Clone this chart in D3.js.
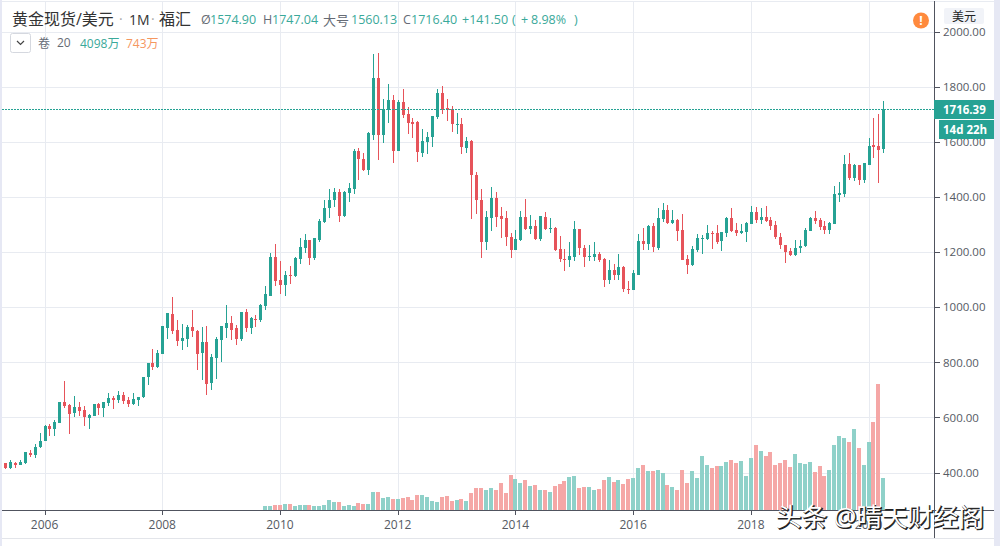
<!DOCTYPE html>
<html><head><meta charset="utf-8">
<script src="https://cdnjs.cloudflare.com/ajax/libs/d3/7.8.5/d3.min.js"></script>
<style>html,body{margin:0;padding:0;background:#fff;overflow:hidden}svg{display:block}text{font-family:"Open Sans","Noto Sans CJK SC",sans-serif}</style>
</head><body><svg id="c" width="1000" height="546"></svg>
<script>
// Monthly candles, first bar May 2005, last bar Apr 2020
const firstYear = 2005, firstMonth = 5;
const open = [434,417,436,429,433,471,464,492,515,568,557,581,656,644,616,637,627,598,606,648,634,652,671,663,681,663,650,664,673,745,796,782,830,926,976,917,878,886,928,915,834,874,726,817,881,926,943,925,884,983,926,957,952,1005,1042,1183,1099,1081,1118,1112,1176,1216,1244,1177,1245,1308,1359,1388,1419,1330,1413,1430,1565,1539,1499,1625,1830,1623,1715,1750,1566,1743,1699,1670,1670,1560,1598,1618,1691,1776,1724,1720,1664,1666,1579,1601,1481,1390,1235,1325,1396,1331,1325,1254,1206,1244,1327,1282,1295,1247,1327,1282,1288,1211,1176,1170,1183,1284,1214,1183,1183,1194,1176,1098,1136,1115,1145,1067,1062,1118,1241,1230,1295,1214,1320,1353,1305,1317,1280,1175,1152,1208,1249,1248,1270,1268,1241,1268,1323,1279,1268,1274,1303,1345,1316,1327,1316,1298,1255,1226,1205,1189,1213,1220,1278,1323,1316,1295,1280,1302,1406,1410,1521,1469,1514,1460,1517,1588,1584,1574.9];
const high = [434,444,438,447,476,481,503,542,572,575,589,656,732,647,676,655,640,612,647,652,654,687,676,696,691,673,687,675,745,796,847,843,930,978,1035,954,939,934,990,916,928,932,831,891,930,1008,968,934,982,994,964,972,1012,1075,1196,1230,1166,1132,1148,1183,1252,1265,1244,1252,1318,1390,1427,1433,1427,1422,1451,1572,1578,1560,1635,1917,1923,1756,1808,1768,1750,1793,1727,1687,1674,1645,1636,1695,1790,1802,1756,1730,1703,1687,1618,1608,1492,1427,1350,1435,1417,1365,1347,1268,1280,1347,1394,1335,1317,1331,1345,1323,1291,1259,1211,1238,1311,1284,1226,1226,1235,1199,1180,1172,1158,1194,1148,1094,1133,1266,1287,1299,1306,1359,1379,1371,1353,1319,1337,1190,1223,1266,1262,1298,1278,1298,1271,1327,1359,1304,1301,1308,1366,1363,1359,1366,1327,1311,1269,1226,1213,1244,1242,1286,1327,1350,1322,1311,1309,1438,1454,1553,1558,1519,1517,1524,1612,1687,1699,1747.04];
const low = [412,413,417,427,432,456,453,490,513,533,533,579,635,541,601,606,568,559,605,608,601,641,630,651,648,638,645,642,671,719,772,778,830,885,903,860,846,856,893,772,737,681,699,739,802,888,881,863,877,911,903,928,947,988,1039,1075,1048,1042,1085,1109,1155,1195,1154,1172,1238,1305,1325,1362,1308,1326,1381,1411,1463,1493,1479,1608,1533,1596,1667,1522,1566,1686,1627,1612,1527,1544,1554,1582,1684,1699,1674,1637,1627,1554,1560,1320,1339,1179,1208,1275,1292,1250,1223,1178,1206,1241,1280,1266,1242,1241,1279,1270,1205,1164,1130,1145,1166,1190,1145,1169,1169,1163,1073,1083,1098,1098,1055,1047,1062,1115,1208,1208,1199,1206,1310,1302,1302,1241,1170,1121,1148,1199,1194,1242,1212,1230,1205,1253,1272,1259,1265,1235,1302,1305,1302,1309,1280,1246,1212,1159,1184,1184,1196,1218,1277,1302,1281,1266,1266,1302,1381,1400,1460,1456,1442,1450,1515,1541,1450,1560.13];
const close = [417,437,429,438,473,463,491,516,570,557,584,656,641,612,637,623,600,610,647,634,654,670,663,681,661,650,665,675,745,796,783,835,930,978,914,878,887,928,915,831,874,721,819,884,930,943,917,884,982,926,959,954,1007,1048,1183,1096,1080,1116,1112,1179,1219,1245,1180,1250,1311,1361,1390,1419,1332,1416,1434,1566,1536,1499,1630,1830,1623,1720,1750,1566,1744,1696,1668,1664,1562,1601,1619,1695,1776,1720,1715,1664,1666,1580,1601,1478,1388,1235,1328,1396,1327,1320,1253,1206,1248,1327,1282,1295,1248,1329,1282,1288,1208,1175,1170,1186,1284,1214,1183,1187,1194,1172,1098,1136,1115,1145,1067,1062,1122,1240,1230,1296,1218,1324,1353,1305,1317,1278,1172,1152,1212,1250,1251,1268,1267,1238,1271,1323,1275,1268,1277,1305,1345,1316,1327,1311,1295,1253,1224,1201,1189,1216,1223,1280,1323,1313,1291,1279,1305,1410,1413,1521,1469,1514,1460,1522,1586,1580,1571,1716.4];
// Volume (millions) starts at bar 53, Oct 2009
const volumeStart = 53;
const volume = [5.5,5.5,6.7,6.3,8,8,5.5,6.7,6.7,6.7,5.5,5.5,6.7,13,10.5,10.5,4.6,5.9,5.5,9.2,8,8,22.7,23.1,15.1,16.4,14.3,14.3,15.5,16.8,13,19.3,19.3,16.8,11.8,10.5,16.8,18.1,11.3,12.6,14.3,11.8,21.4,27.7,28.1,25.2,27.7,25.2,33.6,21.4,44.5,39.5,34.4,37.8,29.8,31.9,25.2,24.8,23.1,30.7,33.2,36.5,41.2,43.3,28.1,29.4,29,25.6,26.9,38.2,41.2,34.9,38.2,33.2,39.1,40.3,53.3,56.3,49.1,49.6,50,47,31.9,29.4,24.8,50,33.6,49.6,39.9,68.5,57.1,53.3,55.9,55,60.1,63.4,58.8,61.7,43.3,65.5,81.9,74.8,68.5,73.1,57.1,58.8,63.4,54.6,71,59.6,58.4,60.5,47.9,55.9,43.3,50,81.5,93.2,91.1,85.3,102.5,78.1,57.1,86.5,110.9,159.2,41];
const priceTicks = [400,600,800,1000,1200,1400,1600,1800,2000];
const yearTicks = [2006,2008,2010,2012,2014,2016,2018,2020];

const upC="#26a294", downC="#e6535a", upV="#8fd1c9", downV="#f5a7a6", grid="#e8ebf1", axisC="#50535e";
const svg=d3.select("#c");
const x=d3.scaleLinear().domain([0,179]).range([5.3,883.3]);
const y=d3.scaleLinear().domain([400,2000]).range([472.5,31.5]);
const yV=d3.scaleLinear().domain([0,159.2]).range([510,384]);
const monthIdx=yr=>(yr-firstYear)*12+1-firstMonth;
const bars=d3.range(open.length);
const px=i=>Math.round(x(i));

// side strips
svg.append("rect").attr("x",0).attr("y",0).attr("width",2).attr("height",546).attr("fill","#e6e8f4");
svg.append("rect").attr("x",994).attr("y",0).attr("width",6).attr("height",546).attr("fill","#e6e8f4");

// grid
const g=svg.append("g").attr("shape-rendering","crispEdges");
g.selectAll(".h").data(priceTicks).join("line").attr("x1",2).attr("x2",934).attr("y1",d=>Math.round(y(d))+.5).attr("y2",d=>Math.round(y(d))+.5).attr("stroke",grid);
g.selectAll(".v").data(yearTicks).join("line").attr("x1",d=>Math.round(x(monthIdx(d)))+.5).attr("x2",d=>Math.round(x(monthIdx(d)))+.5).attr("y1",1).attr("y2",510).attr("stroke",grid);
g.append("line").attr("x1",2).attr("x2",994).attr("y1",1.5).attr("y2",1.5).attr("stroke",grid);
g.append("line").attr("x1",2).attr("x2",994).attr("y1",538.5).attr("y2",538.5).attr("stroke","#e3e5ea");

// volume
svg.append("g").attr("shape-rendering","crispEdges").selectAll("rect").data(volume).join("rect")
 .attr("x",(d,k)=>px(k+volumeStart)-2).attr("width",4)
 .attr("y",d=>yV(d)).attr("height",d=>yV(0)-yV(d))
 .attr("fill",(d,k)=>close[k+volumeStart]>=open[k+volumeStart]?upV:downV);

// candles
const cg=svg.append("g").attr("shape-rendering","crispEdges");
cg.selectAll(".w").data(bars).join("line")
 .attr("x1",i=>px(i)+.5).attr("x2",i=>px(i)+.5).attr("y1",i=>y(high[i])).attr("y2",i=>y(low[i]))
 .attr("stroke",i=>close[i]>=open[i]?upC:downC);
cg.selectAll(".b").data(bars).join("rect")
 .attr("x",i=>px(i)-1).attr("width",3)
 .attr("y",i=>y(Math.max(open[i],close[i])))
 .attr("height",i=>Math.max(1,Math.abs(y(open[i])-y(close[i]))))
 .attr("fill",i=>close[i]>=open[i]?upC:downC);

// last price line
const lastPrice=1716.39;
svg.append("line").attr("x1",2).attr("x2",934).attr("y1",Math.floor(y(lastPrice))+.5).attr("y2",Math.floor(y(lastPrice))+.5)
 .attr("stroke",upC).attr("stroke-dasharray","2 1");

// axes
const ag=svg.append("g").attr("shape-rendering","crispEdges");
ag.append("line").attr("x1",2).attr("x2",994).attr("y1",510.5).attr("y2",510.5).attr("stroke",axisC);
ag.append("line").attr("x1",934.5).attr("x2",934.5).attr("y1",1).attr("y2",538).attr("stroke",axisC);
ag.selectAll(".yt").data(priceTicks).join("line").attr("x1",934).attr("x2",940).attr("y1",d=>Math.round(y(d))+.5).attr("y2",d=>Math.round(y(d))+.5).attr("stroke",axisC);
ag.selectAll(".xt").data(yearTicks).join("line").attr("x1",d=>Math.round(x(monthIdx(d)))+.5).attr("x2",d=>Math.round(x(monthIdx(d)))+.5).attr("y1",510).attr("y2",515).attr("stroke",axisC);

svg.append("g").selectAll("text").data(priceTicks).join("text").attr("x",943).attr("y",d=>y(d)+4.3)
 .attr("font-size",11.5).attr("fill","#555a63").text(d=>d3.format(".2f")(d));
svg.append("g").selectAll("text").data(yearTicks).join("text").attr("x",d=>x(monthIdx(d))).attr("y",529).attr("text-anchor","middle")
 .attr("font-size",12).attr("fill","#555a63").text(d=>d);

// price label + countdown
svg.append("rect").attr("x",934).attr("y",100).attr("width",60).attr("height",19).attr("fill",upC);
svg.append("rect").attr("x",939).attr("y",120).attr("width",55).attr("height",19).attr("fill",upC);
svg.append("text").attr("x",943).attr("y",114).attr("font-size",11.5).attr("font-weight",700).attr("fill","#fff").text("1716.39");
svg.append("text").attr("x",943).attr("y",134).attr("font-size",11.5).attr("font-weight",700).attr("fill","#fff").text("14d 22h");

// currency button + alert icon
svg.append("rect").attr("x",944).attr("y",8).attr("width",40).attr("height",16).attr("rx",2).attr("fill","#f1f3f8");
svg.append("text").attr("x",964).attr("y",21).attr("text-anchor","middle").attr("font-size",12).attr("fill","#222").text("美元");
svg.append("circle").attr("cx",921).attr("cy",20.5).attr("r",8).attr("fill","#ff8a3d");
svg.append("text").attr("x",921).attr("y",25).attr("text-anchor","middle").attr("font-size",12).attr("font-weight",700).attr("fill","#fff").text("!");

// header
const T=(t,xp,yp,fs,c,a)=>svg.append("text").attr("x",xp).attr("y",yp).attr("font-size",fs).attr("fill",c).attr("font-weight",a||400).text(t);
const tc="#3aa99a", gc="#666b75";
T("黄金现货/美元",12,25,16,"#333");
T("·",119,24,14,"#aaa");
T("1M",129,25,14,"#333");
T("·",151,24,14,"#aaa");
T("福汇",159,25,16,"#333");
T("Ø",201,24,12.5,gc); T("1574.90",210,24,12.5,tc);
T("H",263,24,12.5,gc); T("1747.04",272,24,12.5,tc);
T("大号",323,25,13,gc); T("1560.13",351,24,12.5,tc);
T("C",403,24,12.5,gc); T("1716.40",411,24,12.5,tc);
T("+141.50",462,24,12.5,tc);
T("(",512,24,12.5,tc); T("+",521,24,12.5,tc); T("8.98%",531,24,12.5,tc); T(")",574,24,12.5,tc);
svg.append("rect").attr("x",10.5).attr("y",33.5).attr("width",20).attr("height",19).attr("rx",2).attr("fill","#fff").attr("stroke","#d5d8df");
svg.append("path").attr("d","M17 41 L20.5 44.5 L24 41").attr("fill","none").attr("stroke","#444").attr("stroke-width",1.2);
T("卷",38,48,12,gc);
T("20",57,47,12,gc);
T("4098万",80,48,12,tc);
T("743万",126,48,12,"#f5975f");

// watermark
const wm=(dx,dy,fill,stroke)=>svg.append("text").attr("x",776+dx).attr("y",526+dy).attr("font-size",25.5).attr("font-family","'Noto Sans CJK SC'").attr("font-weight",400)
 .attr("fill",fill).attr("stroke",stroke).attr("stroke-width",stroke==="none"?0:1).text("头条 @晴天财经阁");
wm(1,1,"#222","#222");
wm(0,0,"#fff","none");
</script></body></html>
